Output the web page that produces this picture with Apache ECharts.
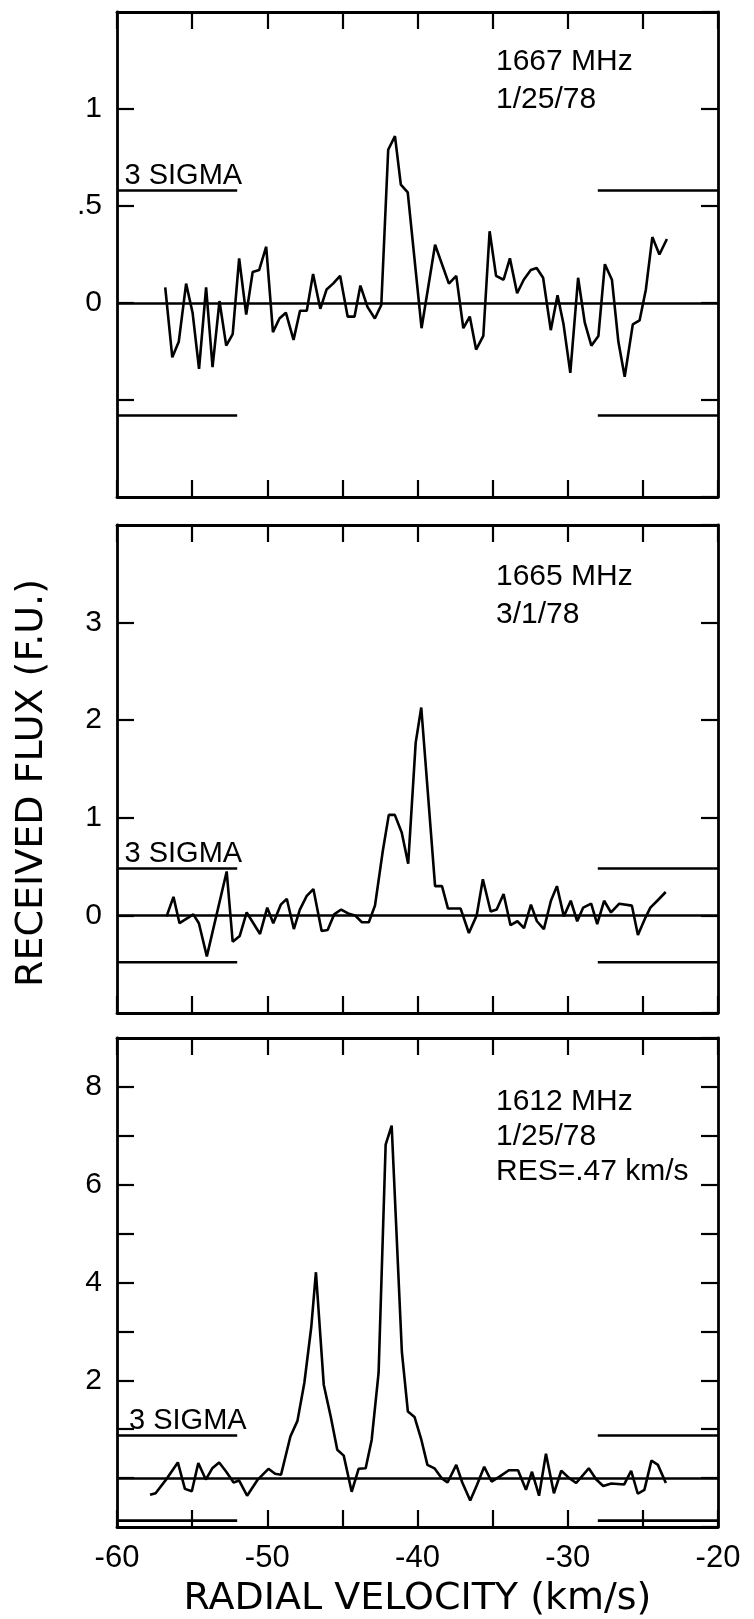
<!DOCTYPE html>
<html>
<head>
<meta charset="utf-8">
<script src="https://cdn.jsdelivr.net/npm/echarts@6/dist/echarts.min.js"></script>
<style>
html,body{margin:0;padding:0;background:#fff;}
#chart{width:754px;height:1619px;}
</style>
</head>
<body>
<div id="chart"></div>
<script>
// ---------- DATA ----------
// 1667 MHz, 1/25/78
const vel1667 = [-56.79,-56.32,-55.89,-55.40,-54.97,-54.54,-54.07,-53.64,-53.18,-52.73,-52.30,-51.87,-51.40,-50.97,-50.54,-50.07,-49.62,-49.19,-48.76,-48.25,-47.82,-47.37,-46.95,-46.47,-46.05,-45.62,-45.15,-44.65,-44.19,-43.80,-43.33,-42.84,-42.41,-41.95,-41.50,-41.11,-40.65,-39.73,-38.83,-37.91,-37.42,-36.95,-36.52,-36.10,-35.62,-35.20,-34.77,-34.27,-33.85,-33.37,-32.93,-32.46,-32.07,-31.64,-31.13,-30.68,-30.28,-29.83,-29.31,-28.87,-28.43,-27.96,-27.53,-27.06,-26.63,-26.21,-25.67,-25.22,-24.80,-24.37,-23.90,-23.40];
const flux1667 = [0.08,-0.28,-0.20,0.10,-0.05,-0.34,0.08,-0.33,0.01,-0.22,-0.16,0.23,-0.06,0.16,0.17,0.29,-0.15,-0.08,-0.05,-0.19,-0.04,-0.04,0.15,-0.03,0.07,0.10,0.14,-0.07,-0.07,0.09,-0.02,-0.08,-0.01,0.79,0.86,0.61,0.57,-0.13,0.30,0.10,0.14,-0.13,-0.07,-0.24,-0.17,0.37,0.14,0.12,0.23,0.05,0.12,0.17,0.18,0.13,-0.14,0.04,-0.11,-0.36,0.13,-0.10,-0.22,-0.17,0.20,0.12,-0.20,-0.38,-0.11,-0.09,0.07,0.34,0.25,0.33];

// 1665 MHz, 3/1/78
const vel1665 = [-56.70,-56.24,-55.84,-54.92,-54.55,-54.02,-52.70,-52.30,-51.83,-51.37,-50.48,-50.00,-49.60,-49.10,-48.70,-48.23,-47.83,-47.37,-46.93,-46.38,-45.98,-45.55,-45.08,-44.62,-44.16,-43.70,-43.24,-42.83,-42.31,-41.91,-41.51,-41.05,-40.62,-40.12,-39.75,-38.83,-38.37,-37.97,-37.13,-36.58,-36.06,-35.65,-35.13,-34.73,-34.27,-33.81,-33.35,-32.91,-32.45,-32.05,-31.59,-31.12,-30.72,-30.26,-29.80,-29.37,-28.97,-28.44,-28.04,-27.58,-27.12,-26.57,-25.73,-25.33,-24.82,-24.50,-24.04,-23.48];
const flux1665 = [-0.01,0.19,-0.08,0.01,-0.08,-0.42,0.45,-0.27,-0.21,0.03,-0.19,0.08,-0.08,0.11,0.17,-0.14,0.06,0.20,0.27,-0.16,-0.15,0.01,0.06,0.02,0.00,-0.07,-0.07,0.10,0.66,1.03,1.03,0.85,0.53,1.77,2.13,0.30,0.30,0.07,0.07,-0.18,0.00,0.37,0.04,0.06,0.22,-0.10,-0.06,-0.13,0.11,-0.06,-0.14,0.15,0.30,-0.01,0.15,-0.06,0.08,0.12,-0.09,0.15,0.03,0.12,0.10,-0.20,-0.02,0.08,0.15,0.24];

// 1612 MHz, 1/25/78
const vel1612 = [-57.80,-57.43,-56.66,-55.95,-55.48,-55.02,-54.59,-54.09,-53.66,-53.20,-52.73,-52.24,-51.87,-51.34,-50.63,-49.92,-49.48,-49.08,-48.46,-47.99,-47.53,-47.07,-46.76,-46.24,-45.77,-45.34,-44.91,-44.38,-43.92,-43.45,-43.05,-42.59,-42.12,-41.72,-41.04,-40.64,-40.20,-39.74,-39.34,-38.87,-38.40,-38.00,-37.42,-37.02,-36.49,-36.03,-35.56,-35.07,-34.54,-33.92,-33.31,-32.78,-32.38,-31.91,-31.45,-30.92,-30.43,-29.90,-29.44,-28.60,-28.10,-27.64,-27.10,-26.24,-25.78,-25.34,-24.90,-24.43,-24.00,-23.47];
const flux1612 = [-0.34,-0.31,0.00,0.32,-0.22,-0.27,0.31,-0.03,0.20,0.32,0.13,-0.09,-0.05,-0.36,-0.03,0.19,0.09,0.07,0.85,1.17,1.95,3.09,4.21,1.91,1.25,0.58,0.46,-0.28,0.19,0.20,0.78,2.15,6.82,7.21,2.58,1.36,1.25,0.78,0.27,0.20,0.00,-0.09,0.27,-0.09,-0.46,-0.13,0.23,-0.07,0.03,0.16,0.16,-0.24,0.13,-0.36,0.50,-0.31,0.15,0.00,-0.10,0.20,-0.03,-0.16,-0.11,-0.13,0.15,-0.32,-0.24,0.36,0.27,-0.10];

// 3-sigma levels and their velocity extents
const sigma1667 = 0.58;
const sigma1665 = 0.48;
const sigma1612 = 0.87;
const sigmaLeftRange = [-60, -52];
const sigmaRightRange = [-28, -20];
const sigmaLabelVel = [-59.5, -59.5, -59.2];

// axes
const xMin = -60, xMax = -20, xTickStep = 5;
const xTickLabels = ['-60', '-50', '-40', '-30', '-20'];
const xTickLabelValues = [-60, -50, -40, -30, -20];
const yRange1667 = [-1, 1.5], yStep1667 = 0.5;
const yTickValues1667 = [0, 0.5, 1];
const yTickLabels1667 = ['0', '.5', '1'];
const yRange1665 = [-1, 4], yStep1665 = 1;
const yTickValues1665 = [0, 1, 2, 3];
const yTickLabels1665 = ['0', '1', '2', '3'];
const yRange1612 = [-1, 9], yStep1612 = 1;
const yTickValues1612 = [2, 4, 6, 8];
const yTickLabels1612 = ['2', '4', '6', '8'];

const annot1667 = '1667 MHz\n1/25/78';
const annot1665 = '1665 MHz\n3/1/78';
const annot1612 = '1612 MHz\n1/25/78\nRES=.47 km/s';
const sigmaText = '3 SIGMA';
const xTitle = 'RADIAL VELOCITY (km/s)';
const yTitle = 'RECEIVED FLUX (F.U.)';

// ---------- CHART ----------
const FONT = "'Liberation Sans', Arial, sans-serif";
const TFONT = "'DejaVu Sans', sans-serif";
const BLACK = '#000';

function zip(a, b) { return a.map((v, i) => [v, b[i]]); }
function sigmaData(s) {
  return [[sigmaLeftRange[0], s], [sigmaLeftRange[1], s], [sigmaLeftRange[1], '-'],
          [sigmaRightRange[0], s], [sigmaRightRange[1], s]];
}
function labelFmt(vals, labels) {
  return function (v) {
    for (let i = 0; i < vals.length; i++) if (Math.abs(v - vals[i]) < 1e-6) return labels[i];
    return '';
  };
}

const gridDefs = [
  { left: 117, right: 36, top: 12, height: 485 },
  { left: 117, right: 36, top: 525, height: 488 },
  { left: 117, right: 36, top: 1038, height: 492 }
];

const tick = { show: true, inside: true, length: 17, lineStyle: { color: BLACK, width: 2.2 } };
const axLine = { show: true, onZero: false, lineStyle: { color: BLACK, width: 2.8 } };

const xAxes = [], yAxes = [];
const yConf = [
  [yRange1667, yStep1667, yTickValues1667, yTickLabels1667],
  [yRange1665, yStep1665, yTickValues1665, yTickLabels1665],
  [yRange1612, yStep1612, yTickValues1612, yTickLabels1612]
];
for (let g = 0; g < 3; g++) {
  xAxes.push({
    type: 'value', gridIndex: g, position: 'bottom', min: xMin, max: xMax, interval: xTickStep,
    axisLine: axLine, axisTick: tick, splitLine: { show: false },
    axisLabel: g === 2 ? {
      show: true, margin: 16, color: BLACK, fontSize: 31, fontFamily: FONT,
      formatter: labelFmt(xTickLabelValues, xTickLabels), showMinLabel: true, showMaxLabel: true
    } : { show: false },
    name: g === 2 ? xTitle : '', nameLocation: 'middle', nameGap: 53,
    nameTextStyle: { color: BLACK, fontSize: 38, fontFamily: TFONT }
  });
  xAxes.push({
    type: 'value', gridIndex: g, position: 'top', min: xMin, max: xMax, interval: xTickStep,
    axisLine: axLine, axisTick: tick, splitLine: { show: false }, axisLabel: { show: false }
  });
  const [yr, ys, yv, yl] = yConf[g];
  yAxes.push({
    type: 'value', gridIndex: g, position: 'left', min: yr[0], max: yr[1], interval: ys,
    axisLine: axLine, axisTick: tick, splitLine: { show: false },
    axisLabel: { show: true, margin: 15, color: BLACK, fontSize: 30, fontFamily: FONT,
      formatter: labelFmt(yv, yl), showMinLabel: false, showMaxLabel: false }
  });
  yAxes.push({
    type: 'value', gridIndex: g, position: 'right', min: yr[0], max: yr[1], interval: ys,
    axisLine: axLine, axisTick: tick, splitLine: { show: false }, axisLabel: { show: false }
  });
}

const spectra = [zip(vel1667, flux1667), zip(vel1665, flux1665), zip(vel1612, flux1612)];
const sigmas = [sigma1667, sigma1665, sigma1612];
const series = [];
for (let g = 0; g < 3; g++) {
  series.push({
    type: 'line', xAxisIndex: 2 * g, yAxisIndex: 2 * g, data: spectra[g],
    symbol: 'none', lineStyle: { color: BLACK, width: 2.6 }, silent: true,
    markLine: { silent: true, symbol: ['none', 'none'], label: { show: false },
      lineStyle: { color: BLACK, width: 2.6, type: 'solid' }, data: [{ yAxis: 0 }] }
  });
  series.push({
    type: 'line', xAxisIndex: 2 * g, yAxisIndex: 2 * g, data: sigmaData(sigmas[g]),
    symbol: 'none', connectNulls: false, lineStyle: { color: BLACK, width: 2.6 }, silent: true
  });
  series.push({
    type: 'line', xAxisIndex: 2 * g, yAxisIndex: 2 * g, data: sigmaData(-sigmas[g]),
    symbol: 'none', connectNulls: false, lineStyle: { color: BLACK, width: 2.6 }, silent: true
  });
  series.push({
    type: 'scatter', xAxisIndex: 2 * g, yAxisIndex: 2 * g, data: [[sigmaLabelVel[g], sigmas[g]]],
    symbolSize: 0, silent: true, itemStyle: { color: BLACK, opacity: 1 },
    label: { show: true, position: 'top', align: 'left', distance: 0, formatter: sigmaText,
      color: BLACK, opacity: 1, textBorderWidth: 0, fontSize: 29, fontFamily: FONT }
  });
}

const annStyle = { color: BLACK, fontSize: 30, lineHeight: 38, fontWeight: 'normal', fontFamily: FONT };
const annStyle3 = { color: BLACK, fontSize: 30, lineHeight: 35, fontWeight: 'normal', fontFamily: FONT };
const option = {
  animation: false,
  backgroundColor: '#fff',
  grid: gridDefs,
  xAxis: xAxes,
  yAxis: yAxes,
  title: [
    { text: annot1667, left: 491, top: 38, textStyle: annStyle },
    { text: annot1665, left: 491, top: 553, textStyle: annStyle },
    { text: annot1612, left: 491, top: 1079, textStyle: annStyle3 }
  ],
  graphic: [{
    type: 'text', x: 32, y: 783, rotation: Math.PI / 2,
    style: { text: yTitle, fill: BLACK, font: "38px 'DejaVu Sans', sans-serif", align: 'center', verticalAlign: 'middle' }
  }],
  series: series
};

const chart = echarts.init(document.getElementById('chart'), null, { renderer: 'canvas' });
chart.setOption(option);
</script>
</body>
</html>
